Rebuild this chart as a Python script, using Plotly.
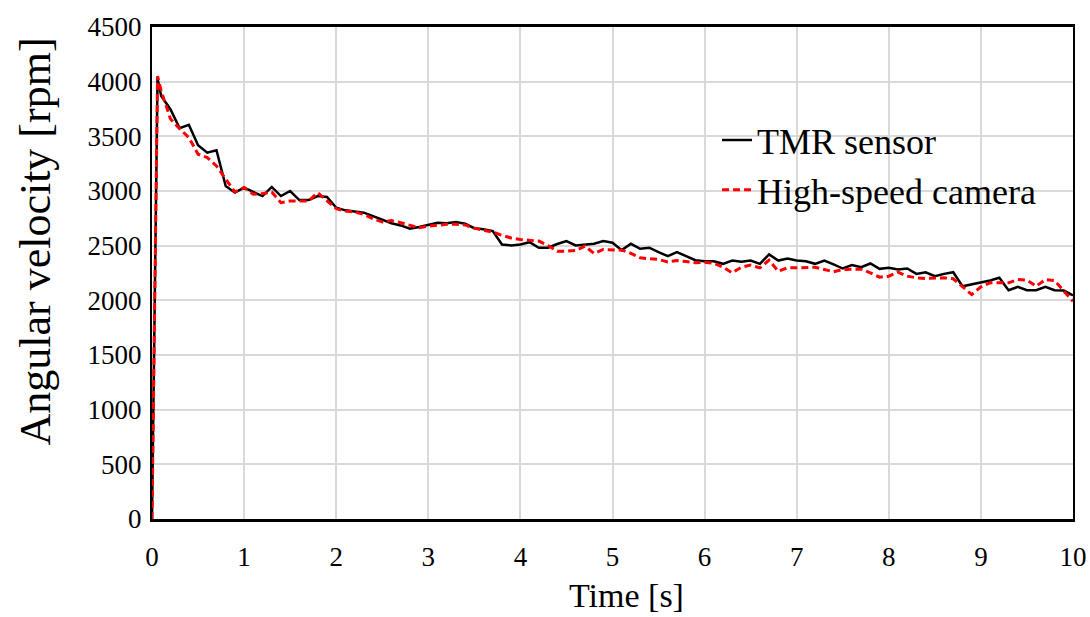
import plotly.graph_objects as go

time_s = [0, 0.06] + [round(0.1 * k, 1) for k in range(1, 101)]

tmr_rpm = [0, 4030,
    3870, 3748, 3574, 3605, 3418, 3351, 3373, 3046, 2985, 3031,
    2991, 2954, 3037, 2954, 3000, 2917, 2917, 2954, 2945, 2847,
    2823, 2812, 2802, 2770, 2740, 2705, 2685, 2655, 2670, 2690,
    2710, 2705, 2716, 2700, 2660, 2650, 2633, 2511, 2502, 2510,
    2532, 2481, 2481, 2515, 2542, 2502, 2510, 2517, 2542, 2527,
    2459, 2517, 2472, 2481, 2441, 2404, 2441, 2404, 2367, 2358,
    2358, 2334, 2364, 2352, 2364, 2334, 2420, 2364, 2383, 2364,
    2358, 2334, 2364, 2328, 2291, 2322, 2303, 2337, 2288, 2297,
    2282, 2291, 2242, 2257, 2221, 2242, 2257, 2129, 2145, 2160,
    2181, 2206, 2092, 2123, 2092, 2092, 2123, 2092, 2089, 2044]

camera_rpm = [0, 4050,
    3916, 3660, 3570, 3489, 3336, 3306, 3229, 3107, 2991, 3031,
    2970, 2976, 2991, 2893, 2908, 2908, 2908, 2985, 2908, 2838,
    2817, 2808, 2786, 2747, 2716, 2730, 2710, 2690, 2664, 2679,
    2690, 2695, 2695, 2690, 2660, 2640, 2624, 2595, 2570, 2557,
    2550, 2542, 2502, 2450, 2450, 2455, 2496, 2429, 2465, 2462,
    2459, 2430, 2389, 2380, 2374, 2352, 2364, 2355, 2343, 2349,
    2340, 2303, 2252, 2303, 2322, 2297, 2367, 2266, 2297, 2297,
    2300, 2303, 2282, 2261, 2282, 2282, 2285, 2252, 2212, 2221,
    2257, 2221, 2206, 2200, 2203, 2206, 2197, 2129, 2053, 2123,
    2160, 2160, 2160, 2190, 2185, 2129, 2190, 2181, 2083, 1991]

x_ticks = list(range(0, 11))
y_ticks = list(range(0, 4501, 500))

x_title = "Time [s]"
y_title = "Angular velocity [rpm]"

FONT = "Liberation Serif"

fig = go.Figure()
fig.add_trace(go.Scatter(x=time_s, y=tmr_rpm, mode="lines", name="TMR sensor",
                         line=dict(color="black", width=2.5)))
fig.add_trace(go.Scatter(x=time_s, y=camera_rpm, mode="lines", name="High-speed camera",
                         line=dict(color="#ff0000", width=3, dash="7px,4px")))

fig.update_layout(
    width=1090, height=617,
    margin=dict(l=152, r=17, t=27, b=98, autoexpand=False),
    paper_bgcolor="white", plot_bgcolor="white",
    font=dict(family=FONT, color="black"),
    showlegend=True,
    legend=dict(x=0.6135, y=0.831, xanchor="left", yanchor="top",
                font=dict(size=36, family=FONT, color="black"), bgcolor="rgba(0,0,0,0)",
                tracegroupgap=0),
    annotations=[
        dict(text=x_title, xref="paper", yref="paper", x=0.5147, y=-0.1976,
             xanchor="center", yanchor="bottom", showarrow=False,
             font=dict(size=34, family=FONT, color="black")),
        dict(text=y_title, xref="paper", yref="paper", x=-0.127, y=0.564,
             xanchor="center", yanchor="middle", showarrow=False, textangle=-90,
             font=dict(size=44, family=FONT, color="black")),
    ],
)
fig.update_xaxes(range=[0, 10], tickvals=x_ticks, ticktext=[str(v) for v in x_ticks],
                 showgrid=True, gridcolor="#d9d9d9", gridwidth=2,
                 showline=True, linecolor="black", linewidth=2.5, mirror=True,
                 zeroline=False, ticks="", ticklabelstandoff=12, automargin=False,
                 tickfont=dict(size=27, family=FONT, color="black"))
fig.update_yaxes(range=[0, 4500], tickvals=y_ticks, ticktext=[str(v) for v in y_ticks],
                 showgrid=True, gridcolor="#d9d9d9", gridwidth=2,
                 showline=True, linecolor="black", linewidth=2, mirror=True,
                 zeroline=False, ticks="", ticklabelstandoff=3, automargin=False,
                 tickfont=dict(size=27, family=FONT, color="black"))

fig.write_html("out.html")
